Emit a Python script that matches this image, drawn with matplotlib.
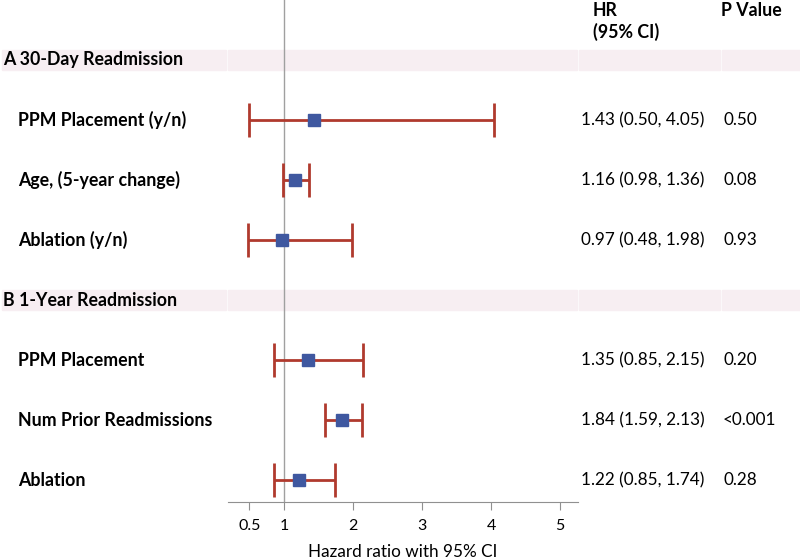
import matplotlib.pyplot as plt
import matplotlib.transforms as mtransforms
from matplotlib.patches import Rectangle

plt.rcParams['font.family'] = ['Lato', 'DejaVu Sans']

# rows, top to bottom
sections = ["A 30-Day Readmission", "B 1-Year Readmission"]
labels_a = ["PPM Placement (y/n)", "Age, (5-year change)", "Ablation (y/n)"]
labels_b = ["PPM Placement", "Num Prior Readmissions", "Ablation"]
hr_a = [1.43, 1.16, 0.97]
lo_a = [0.50, 0.98, 0.48]
hi_a = [4.05, 1.36, 1.98]
p_a = ["0.50", "0.08", "0.93"]
hr_b = [1.35, 1.84, 1.22]
lo_b = [0.85, 1.59, 0.85]
hi_b = [2.15, 2.13, 1.74]
p_b = ["0.20", "<0.001", "0.28"]
xticks = [0.5, 1, 2, 3, 4, 5]

W, H = 800, 560
BOLD = 12.8
REG = 12.3

fig = plt.figure(figsize=(8, 5.6), dpi=100)
# axes spans pixel x 228..578, y 0..502 (top..bottom)
ax = fig.add_axes([228 / W, 1 - 502 / H, 350 / W, 502 / H])
x0 = 1 + (228 - 284) / 69.0
x1 = 1 + (578 - 284) / 69.0
ax.set_xlim(x0, x1)
ax.set_ylim(502, 0)

red = '#b03a2e'
blue = '#3f58a0'
band = '#f7eef2'

trans = mtransforms.blended_transform_factory(fig.transFigure, ax.transData)

def draw_section(title, ys, labels, hr, lo, hi, pv, hy):
    for (a, b) in [(2, 226), (228, 577), (579, 720), (722, 800)]:
        fig.patches.append(Rectangle((a / W, hy - 10), (b - a) / W, 20,
                                     transform=trans, color=band, zorder=-1))
    ax.text(3 / W, hy, title, transform=trans, fontsize=BOLD,
            fontweight='bold', va='center', ha='left')
    for y, lab, h, l, u, p in zip(ys, labels, hr, lo, hi, pv):
        ax.errorbar([h], [y], xerr=[[h - l], [u - h]], fmt='none',
                    ecolor=red, elinewidth=2, capsize=12, capthick=2, zorder=3)
        ax.plot([h], [y], marker='s', markersize=8.5, color=blue,
                linestyle='none', zorder=4)
        ax.text(18 / W, y, lab, transform=trans, fontsize=BOLD,
                fontweight='bold', va='center', ha='left')
        ax.text(581 / W, y, f"{h:.2f} ({l:.2f}, {u:.2f})", transform=trans,
                fontsize=REG, va='center', ha='left')
        ax.text(723 / W, y, p, transform=trans, fontsize=REG,
                va='center', ha='left')

draw_section(sections[0], [120, 180, 240], labels_a, hr_a, lo_a, hi_a, p_a, 60)
draw_section(sections[1], [360, 420, 480], labels_b, hr_b, lo_b, hi_b, p_b, 300)

ax.axvline(1, color='#a0a0a0', linewidth=1, zorder=2)

fig.text(593 / W, 1 - 11 / H, "HR", fontsize=BOLD, fontweight='bold',
         va='center', ha='left')
fig.text(593 / W, 1 - 32 / H, "(95% CI)", fontsize=BOLD, fontweight='bold',
         va='center', ha='left')
fig.text(721 / W, 1 - 11 / H, "P Value", fontsize=BOLD, fontweight='bold',
         va='center', ha='left')

for s in ['top', 'right', 'left']:
    ax.spines[s].set_visible(False)
ax.spines['bottom'].set_color('#909090')
ax.set_yticks([])
ax.set_xticks(xticks)
ax.set_xticklabels(['0.5', '1', '2', '3', '4', '5'])
ax.tick_params(axis='x', length=6, color='#909090', labelsize=11.5, pad=6)
ax.set_xlabel("Hazard ratio with 95% CI", fontsize=REG, labelpad=8)
ax.patch.set_alpha(0)

fig.savefig("out.png", dpi=100)
